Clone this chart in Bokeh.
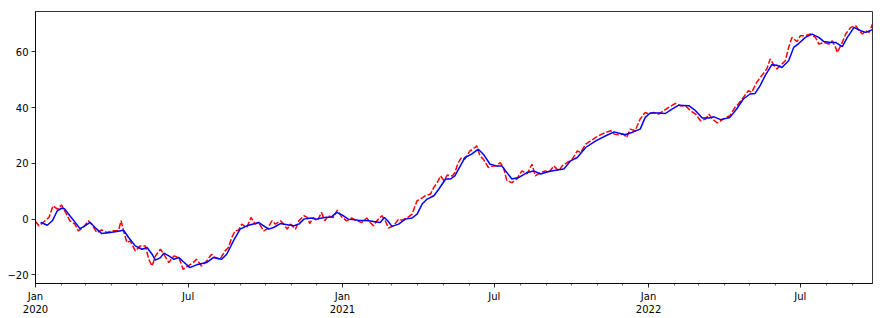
import pandas as pd
from bokeh.plotting import figure
from bokeh.models import FixedTicker, Range1d, LinearAxis
from bokeh.embed import file_html
from bokeh.resources import INLINE

START = pd.Timestamp("2020-01-01")
N_DAYS = 998  # last day offset shown

# red dashed series (raw), day offset from 2020-01-01 and value
red_days = [0, 1, 4, 8, 16, 21, 26, 31, 37, 41, 47, 51, 57, 63, 67, 73, 79, 85, 93, 99, 102, 105,
            109, 113, 119, 125, 131, 135, 139, 143, 149, 153, 159, 165, 171, 176, 182, 188, 192,
            198, 204, 210, 214, 220, 226, 230, 234, 238, 242, 246, 252, 257, 262, 266, 272, 276,
            282, 286, 292, 296, 300, 304, 310, 314, 320, 324, 327, 331, 336, 341, 345, 349, 355,
            360, 365, 371, 377, 383, 389, 395, 399, 403, 407, 413, 417, 421, 427, 433, 437, 443,
            449, 455, 459, 465, 471, 475, 479, 483, 487, 491, 497, 500, 504, 508, 512, 518, 524,
            526, 530, 534, 540, 546, 550, 554, 558, 562, 568, 574, 580, 586, 592, 596, 602, 608,
            612, 618, 624, 628, 634, 640, 646, 650, 656, 662, 668, 674, 680, 686, 690, 695, 701,
            705, 709, 715, 721, 727, 731, 737, 743, 749, 755, 763, 769, 775, 781, 787, 793, 799,
            803, 807, 813, 820, 828, 834, 838, 844, 850, 854, 860, 866, 872, 876, 880, 884, 888,
            894, 898, 902, 908, 912, 918, 924, 930, 934, 940, 946, 950, 954, 956, 962, 966, 972,
            978, 982, 986, 990, 994, 998]
red_vals = [-0.8, -1.2, -2.4, -1.5, 0.6, 4.8, 3.6, 5.1, 1.8, -0.6, -1.8, -4.2, -3.0, -0.6, -1.8,
            -4.8, -3.9, -4.8, -4.2, -4.2, -0.6, -4.2, -8.4, -7.8, -11.4, -9.6, -9.6, -14.4, -16.8,
            -13.2, -10.8, -12.6, -15.6, -13.2, -13.8, -18.0, -16.8, -15.6, -14.4, -16.8, -15.0,
            -12.6, -13.8, -14.4, -11.4, -10.2, -6.6, -4.2, -4.0, -1.8, -3.0, 0.6, -1.8, -1.2, -4.2,
            -3.6, -0.6, -1.8, -0.6, -1.8, -3.6, -1.8, -3.6, -0.6, 1.2, 0.6, -1.6, 0.6, -0.6, 2.4,
            -0.6, 1.2, 0.6, 3.2, 0.8, -0.6, 0.4, -0.6, -1.2, 0.4, -1.2, -2.4, -0.6, 1.2, -0.6, -3.2,
            -2.4, 0.0, -0.4, 0.4, 1.8, 6.6, 7.2, 8.4, 9.0, 11.4, 13.1, 15.5, 13.8, 15.8, 15.5, 16.7,
            20.3, 22.1, 21.5, 24.5, 25.7, 26.3, 22.7, 21.5, 18.5, 19.1, 19.1, 20.3, 18.5, 13.8, 13.1,
            14.4, 17.3, 16.2, 19.7, 15.5, 16.7, 17.3, 16.7, 19.1, 17.3, 19.1, 20.3, 21.5, 24.5, 23.9,
            26.9, 28.1, 29.3, 30.3, 31.1, 31.7, 30.5, 30.3, 30.5, 29.3, 32.3, 31.7, 35.9, 38.3, 37.7,
            38.3, 37.7, 38.9, 40.1, 41.5, 40.7, 40.7, 38.9, 37.7, 35.3, 35.9, 37.7, 35.9, 34.5, 35.9,
            37.1, 40.1, 41.3, 43.7, 46.1, 45.5, 49.1, 51.5, 53.9, 57.5, 55.4, 53.9, 55.1, 56.8, 61.6,
            65.2, 63.7, 65.8, 65.8, 66.4, 65.2, 62.8, 63.4, 62.8, 64.0, 61.6, 59.8, 63.4, 66.4, 68.8,
            69.4, 67.6, 66.4, 67.6, 67.0, 70.0]

# blue solid series (smoothed)
blue_days = [6, 8, 14, 20, 26, 31, 35, 41, 49, 53, 59, 65, 71, 79, 89, 97, 105, 111, 119, 127,
             133, 139, 143, 149, 153, 159, 165, 171, 176, 184, 192, 204, 212, 222, 228, 236, 244,
             252, 262, 266, 272, 278, 284, 292, 300, 308, 314, 320, 328, 334, 345, 353, 359, 365,
             373, 385, 397, 407, 411, 416, 420, 425, 433, 441, 449, 455, 461, 467, 475, 481, 489,
             495, 500, 512, 520, 528, 534, 542, 550, 556, 562, 568, 576, 586, 594, 602, 612, 622,
             630, 638, 646, 656, 668, 680, 690, 695, 703, 711, 721, 727, 733, 743, 751, 759, 767,
             779, 787, 795, 803, 809, 817, 828, 836, 844, 852, 858, 864, 870, 878, 884, 890, 898,
             904, 910, 918, 926, 934, 940, 948, 954, 962, 968, 976, 984, 990, 998]
blue_vals = [-1.2, -1.4, -2.2, -0.6, 3.0, 3.9, 3.6, 1.2, -1.8, -3.4, -2.4, -1.2, -3.0, -5.2, -4.8,
             -4.4, -4.0, -6.6, -9.6, -10.8, -10.2, -12.6, -14.7, -13.8, -12.2, -13.2, -14.4, -13.8,
             -15.2, -17.4, -16.4, -15.6, -13.8, -14.4, -12.6, -7.8, -3.6, -2.4, -1.6, -1.2, -2.4,
             -3.6, -3.0, -1.6, -2.0, -2.4, -1.8, 0.0, 0.4, 0.0, 0.6, 0.8, 2.4, 1.6, 0.0, -0.4, -0.6,
             -1.0, -1.2, 0.6, -0.6, -2.6, -1.8, 0.0, 0.4, 1.8, 5.4, 7.2, 8.4, 10.8, 14.4, 14.4, 15.5,
             22.1, 23.3, 25.1, 23.3, 19.7, 19.1, 19.1, 16.7, 14.4, 14.9, 16.7, 17.3, 16.2, 17.1, 17.6,
             18.0, 20.9, 22.1, 25.7, 28.1, 29.9, 31.3, 30.9, 30.3, 31.1, 32.3, 36.5, 38.1, 38.1, 37.9,
             39.5, 40.9, 40.7, 38.9, 36.3, 36.3, 36.7, 35.7, 36.5, 39.5, 43.1, 44.9, 45.1, 47.9, 51.5,
             55.4, 55.2, 54.4, 56.8, 61.6, 63.0, 65.2, 66.4, 65.2, 63.7, 63.4, 63.4, 61.9, 65.2, 68.8,
             67.6, 67.0, 68.0]

# axis ticks
major_days = [0, 182, 366, 547, 731, 912]
month_labels = ["Jan", "Jul", "Jan", "Jul", "Jan", "Jul"]
year_days = [0, 366, 731]
year_labels = ["2020", "2021", "2022"]
y_ticks = [-20, 0, 20, 40, 60]
y_labels = ["\u221220", "0", "20", "40", "60"]

month_starts = pd.date_range("2020-01-01", START + pd.Timedelta(days=N_DAYS), freq="MS")
minor_days = [int((d - START).days) for d in month_starts]

p = figure(width=882, height=318, output_backend="svg", toolbar_location=None,
           x_range=Range1d(0, N_DAYS), y_range=Range1d(-23.1, 74.5))
p.min_border_left = 35
p.min_border_right = 10
p.min_border_top = 11
p.min_border_bottom = 35
p.background_fill_color = "white"
p.border_fill_color = "white"
p.grid.visible = False
p.outline_line_color = "black"
p.outline_line_width = 0.8
p.outline_line_alpha = 1.0

p.line(red_days, red_vals, line_color="#ff0000", line_width=1.5, line_dash="6 2")
p.line(blue_days, blue_vals, line_color="#0000ff", line_width=1.5)

p.xaxis.ticker = FixedTicker(ticks=major_days, minor_ticks=minor_days)
p.xaxis.major_label_overrides = {d: l for d, l in zip(major_days, month_labels)}
p.yaxis.ticker = FixedTicker(ticks=y_ticks, minor_ticks=[])
p.yaxis.major_label_overrides = {t: l for t, l in zip(y_ticks, y_labels)}

for ax in (p.xaxis, p.yaxis):
    ax.axis_line_color = "black"
    ax.axis_line_width = 0.8
    ax.major_tick_line_color = "black"
    ax.major_tick_line_width = 0.8
    ax.major_tick_out = 4
    ax.major_tick_in = 0
    ax.minor_tick_line_color = "black"
    ax.minor_tick_line_width = 0.6
    ax.minor_tick_out = 2
    ax.minor_tick_in = 0
    ax.major_label_text_font = "DejaVu Sans"
    ax.major_label_text_font_size = "10px"
    ax.major_label_text_color = "black"
    ax.major_label_standoff = 3

year_axis = LinearAxis(ticker=FixedTicker(ticks=year_days, minor_ticks=[]),
                       major_label_overrides={d: l for d, l in zip(year_days, year_labels)},
                       axis_line_color=None, major_tick_line_color=None,
                       minor_tick_line_color=None, major_tick_out=0, major_tick_in=0,
                       minor_tick_out=0, minor_tick_in=0, major_label_standoff=0,
                       major_label_text_font="DejaVu Sans", major_label_text_font_size="10px",
                       major_label_text_color="black")
p.add_layout(year_axis, "below")

open("out.html", "w").write(file_html(p, INLINE))
